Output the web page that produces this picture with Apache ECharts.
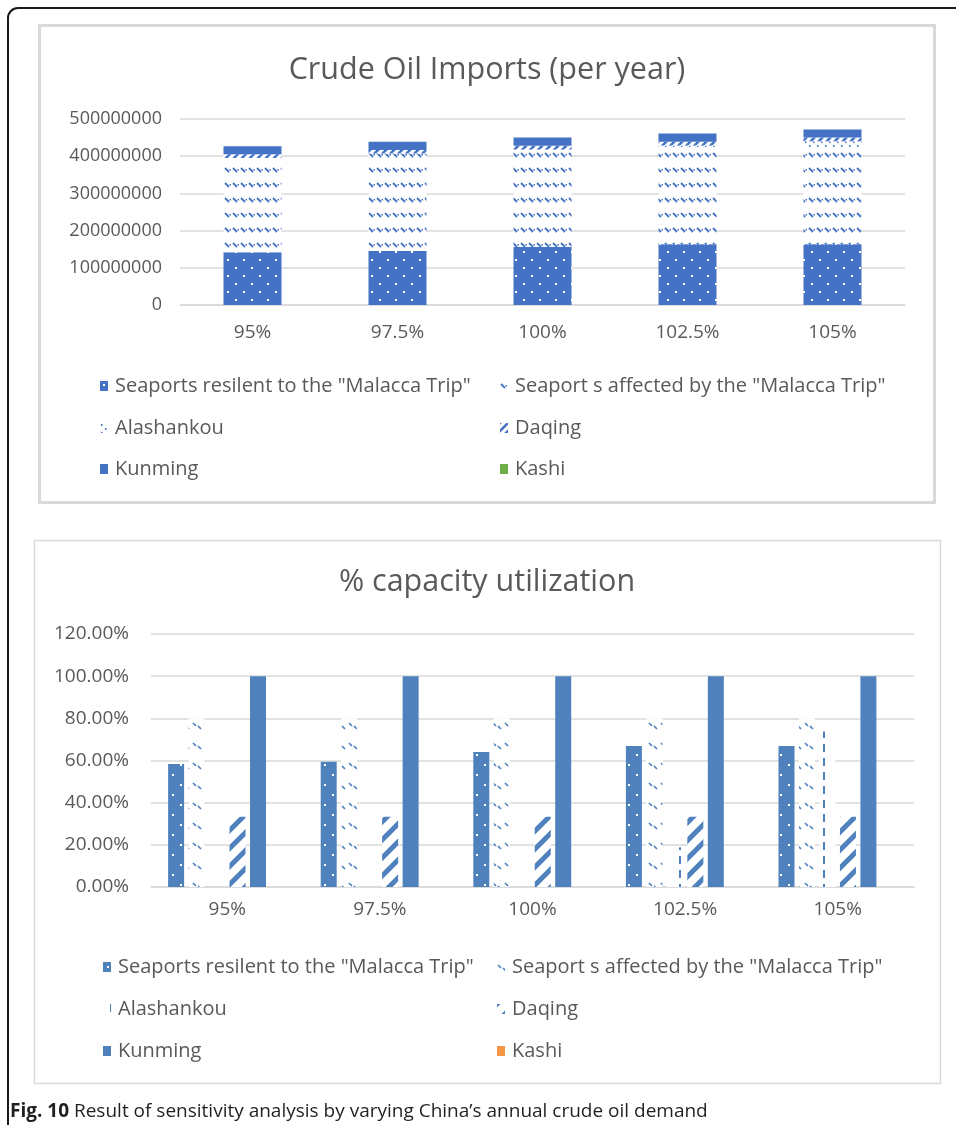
<!DOCTYPE html>
<html>
<head>
<meta charset="utf-8">
<script src="https://cdn.jsdelivr.net/npm/echarts@6/dist/echarts.min.js"></script>
<style>
  html, body { margin: 0; padding: 0; background: #fff; }
  #topChart { position: absolute; left: 0; top: 0; width: 956px; height: 520px; }
  #bottomChart { position: absolute; left: 0; top: 520px; width: 956px; height: 605px; }
</style>
</head>
<body>
<div id="topChart"></div>
<div id="bottomChart"></div>
<script>
// categories = % of China's annual crude oil demand
let categories = ['95%', '97.5%', '100%', '102.5%', '105%'];
let names = ['Seaports resilent to the "Malacca Trip"', 'Seaport s affected by the "Malacca Trip"',
  'Alashankou', 'Daqing', 'Kunming', 'Kashi'];

// crude oil imports (tonnes per year), stacked
let impResilient = [142000000, 145000000, 156000000, 163000000, 163000000];
let impAffected = [253000000, 262000000, 262000000, 262000000, 262000000];
let impAlashankou = [0, 0, 0, 4000000, 15000000];
let impDaqing = [10000000, 10000000, 10000000, 10000000, 10000000];
let impKunming = [22000000, 22000000, 22000000, 22000000, 22000000];
let impKashi = [0, 0, 0, 0, 0];

// % capacity utilization
let utilResilient = [0.583, 0.594, 0.640, 0.669, 0.669];
let utilAffected = [0.80, 0.80, 0.80, 0.80, 0.80];
let utilAlashankou = [0, 0, 0, 0.188, 0.737];
let utilDaqing = [0.333, 0.333, 0.333, 0.333, 0.333];
let utilKunming = [1, 1, 1, 1, 1];
let utilKashi = [0, 0, 0, 0, 0];

// axis ticks
let impTicks = [0, 100000000, 200000000, 300000000, 400000000, 500000000];
let utilTicks = [0, 0.2, 0.4, 0.6, 0.8, 1.0, 1.2];

let font = '"Open Sans", "Noto Sans", sans-serif';
let grey = '#595959';
let gridGrey = '#d9d9d9';

/* small canvas tiles used as fill patterns */
function tile(w, h, bg, draw) {
  let c = document.createElement('canvas');
  c.width = w;
  c.height = h;
  let g = c.getContext('2d');
  if (bg) {
    g.fillStyle = bg;
    g.fillRect(0, 0, w, h);
  }
  draw(g);
  return { image: c, repeat: 'repeat' };
}
function stroke(g, col, lw, pts) {
  g.strokeStyle = col;
  g.lineWidth = lw;
  g.beginPath();
  for (let i = 0; i < pts.length; i += 4) {
    g.moveTo(pts[i], pts[i + 1]);
    g.lineTo(pts[i + 2], pts[i + 3]);
  }
  g.stroke();
}

let blueT = '#4472C4';
let blueB = '#4F81BD';

let topColors = [
  tile(16, 16, blueT, function (g) { g.fillStyle = '#fff'; g.fillRect(3, 3, 2, 2); g.fillRect(11, 11, 2, 2); }),
  tile(8, 15, '#fff', function (g) { stroke(g, blueT, 1.8, [1, 3, 5, 7]); g.fillStyle = blueT; g.fillRect(5.5, 4, 1.5, 1.5); }),
  tile(8, 8, '#fff', function (g) { g.fillStyle = blueT; g.fillRect(1, 1, 1.5, 2); g.fillRect(5, 5, 1.5, 2); }),
  tile(8, 8, '#fff', function (g) { stroke(g, blueT, 2.6, [-1, 9, 9, -1, -1, 1, 1, -1, 7, 9, 9, 7]); }),
  blueT,
  '#70AD47'
];
let bottomColors = [
  tile(16, 20, blueB, function (g) { g.fillStyle = '#fff'; g.fillRect(4, 4, 2, 2); g.fillRect(12, 14, 2, 2); }),
  tile(12, 20, '#fff', function (g) { stroke(g, blueB, 1.7, [1, 3, 4, 6, 6, 6, 9, 9]); }),
  tile(16, 14, '#fff', function (g) { g.fillStyle = blueB; g.fillRect(7, 0, 2, 8); }),
  tile(18, 18, '#fff', function (g) { stroke(g, blueB, 5, [-2, 20, 20, -2, -2, 2, 2, -2, 16, 20, 20, 16]); }),
  blueB,
  '#F79646'
];

// legend: one component per entry, two columns by three rows
function legends(rows, cols) {
  let out = [];
  names.forEach(function (n, i) {
    out.push({
      data: [n],
      left: cols[i % 2],
      top: rows[Math.floor(i / 2)] - 12,
      padding: 0,
      itemWidth: 8,
      itemHeight: 10,
      itemGap: 0,
      selectedMode: false,
      icon: 'rect',
      textStyle: { color: grey, fontSize: 20, fontFamily: font, lineHeight: 24, padding: [0, 0, 0, 2] }
    });
  });
  return out;
}

let topChart = echarts.init(document.getElementById('topChart'));
let impData = [impResilient, impAffected, impAlashankou, impDaqing, impKunming, impKashi];
topChart.setOption({
  animation: false,
  graphic: [
    { type: 'rect', silent: true, shape: { x: 8, y: 8, width: 1100, height: 1100, r: [10, 0, 0, 0] },
      style: { fill: 'none', stroke: '#1a1a1a', lineWidth: 2 } },
    { type: 'rect', silent: true, shape: { x: 39.5, y: 25.5, width: 895, height: 477 },
      style: { fill: 'none', stroke: gridGrey, lineWidth: 3 } },
    { type: 'text', silent: true, x: 487, y: 70,
      style: { text: 'Crude Oil Imports (per year)', fontSize: 30.5, fontFamily: font, fill: grey,
        align: 'center', verticalAlign: 'middle' } }
  ],
  legend: legends([386, 428, 469], [100, 500]),
  grid: { left: 180, right: 51, top: 119, bottom: 215 },
  xAxis: {
    type: 'category',
    data: categories,
    axisLine: { lineStyle: { color: gridGrey, width: 1.5 } },
    axisTick: { show: false },
    axisLabel: { color: grey, fontSize: 19, fontFamily: font, margin: 18 }
  },
  yAxis: {
    type: 'value',
    min: impTicks[0],
    max: impTicks[impTicks.length - 1],
    interval: impTicks[1] - impTicks[0],
    axisLine: { show: false },
    axisTick: { show: false },
    splitLine: { lineStyle: { color: gridGrey, width: 1.5 } },
    axisLabel: {
      color: grey, fontSize: 18, fontFamily: font, margin: 18,
      formatter: function (v) { return String(v); }
    }
  },
  series: names.map(function (n, i) {
    return {
      name: n,
      type: 'bar',
      stack: 'imports',
      barWidth: 58,
      data: impData[i],
      itemStyle: { color: topColors[i] }
    };
  })
});

let bottomChart = echarts.init(document.getElementById('bottomChart'));
let utilData = [utilResilient, utilAffected, utilAlashankou, utilDaqing, utilKunming, utilKashi];
bottomChart.setOption({
  animation: false,
  graphic: [
    { type: 'line', silent: true, shape: { x1: 8, y1: -2, x2: 8, y2: 610 },
      style: { stroke: '#1a1a1a', lineWidth: 2 } },
    { type: 'rect', silent: true, shape: { x: 34.5, y: 20.5, width: 906, height: 543 },
      style: { fill: 'none', stroke: gridGrey, lineWidth: 1.5 } },
    { type: 'text', silent: true, x: 487, y: 62,
      style: { text: '% capacity utilization', fontSize: 30.5, fontFamily: font, fill: grey,
        align: 'center', verticalAlign: 'middle' } },
    { type: 'text', silent: true, x: 10, y: 592,
      style: { text: '{b|Fig. 10} Result of sensitivity analysis by varying China\u2019s annual crude oil demand',
        fontSize: 19, fontFamily: font, fill: '#231f20', verticalAlign: 'middle',
        rich: { b: { fontWeight: 'bold', fontSize: 19, fontFamily: font, fill: '#231f20' } } } }
  ],
  legend: legends([447, 489, 531], [103, 497]),
  grid: { left: 151, right: 42, top: 114, bottom: 238 },
  xAxis: {
    type: 'category',
    data: categories,
    axisLine: { lineStyle: { color: gridGrey, width: 1.5 } },
    axisTick: { show: false },
    axisLabel: { color: grey, fontSize: 19, fontFamily: font, margin: 13 }
  },
  yAxis: {
    type: 'value',
    min: utilTicks[0],
    max: utilTicks[utilTicks.length - 1],
    interval: 0.2,
    axisLine: { show: false },
    axisTick: { show: false },
    splitLine: { lineStyle: { color: gridGrey, width: 1.5 } },
    axisLabel: {
      color: grey, fontSize: 19, fontFamily: font, margin: 22,
      formatter: function (v) { return (v * 100).toFixed(2) + '%'; }
    }
  },
  series: names.map(function (n, i) {
    return {
      name: n,
      type: 'bar',
      barWidth: 16,
      barGap: '28%',
      data: utilData[i],
      itemStyle: { color: bottomColors[i] }
    };
  })
});
</script>
</body>
</html>
